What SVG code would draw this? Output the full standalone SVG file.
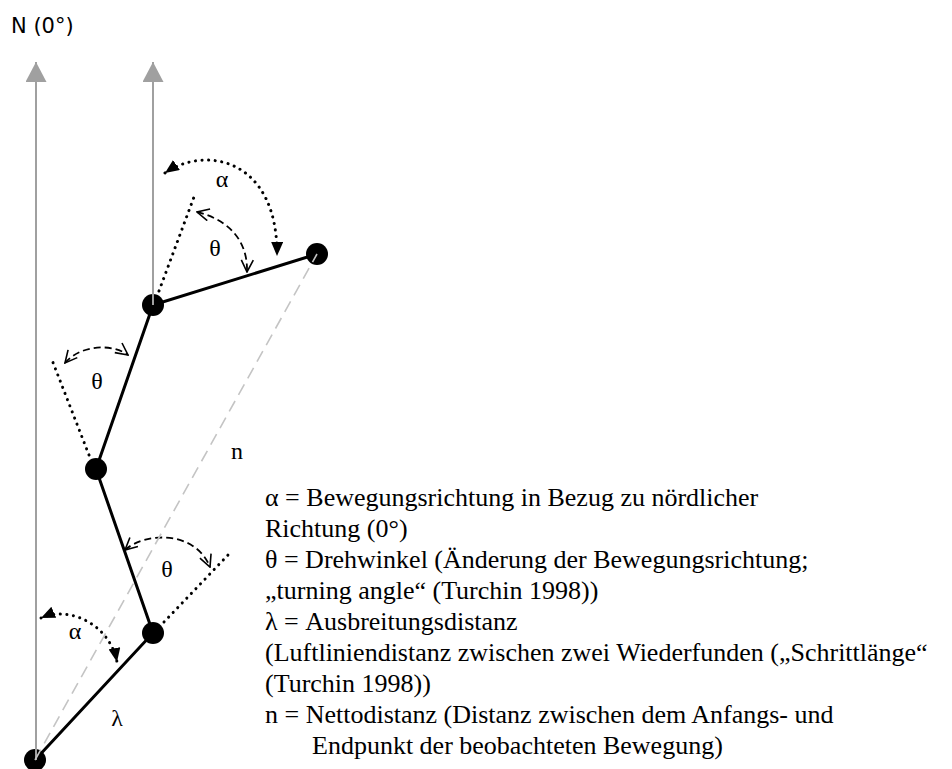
<svg xmlns="http://www.w3.org/2000/svg" width="952" height="769" viewBox="0 0 952 769">
<style>
.north{stroke:#a0a0a0;stroke-width:2;fill:none}
.seg{stroke:#000;stroke-width:3;fill:none}
.net{stroke:#c4c4c4;stroke-width:1.6;stroke-dasharray:12 7;fill:none}
.dot{stroke:#000;stroke-width:3;stroke-linecap:round;stroke-dasharray:0.1 6.5;fill:none}
.alpha{stroke:#000;stroke-width:3;stroke-linecap:round;stroke-dasharray:0.1 6.5;fill:none;marker-start:url(#fa);marker-end:url(#fa)}
.theta{stroke:#000;stroke-width:1.8;stroke-dasharray:7 4;fill:none;marker-start:url(#oa);marker-end:url(#oa)}
.pt{fill:#000}
.lbl{font-family:"Liberation Serif","Times New Roman",serif;font-size:24px;fill:#000;text-anchor:middle}
.leg{font-family:"Liberation Serif","Times New Roman",serif;font-size:26px;fill:#000}
.nt{font-family:"DejaVu Sans",sans-serif;font-size:21px;fill:#000}
</style>
<defs>
<marker id="ga" viewBox="0 0 20 21" refX="20" refY="10.5" markerWidth="20" markerHeight="21" markerUnits="userSpaceOnUse" orient="auto">
<path d="M0,0 L20,10.5 L0,21 z" fill="#a0a0a0"/>
</marker>
<marker id="fa" viewBox="0 0 14 12" refX="14" refY="6" markerWidth="14" markerHeight="12" markerUnits="userSpaceOnUse" orient="auto-start-reverse">
<path d="M0,0 L14,6 L0,12 z" fill="#000"/>
</marker>
<marker id="oa" viewBox="0 0 14 14" refX="13" refY="7" markerWidth="14" markerHeight="14" markerUnits="userSpaceOnUse" orient="auto-start-reverse">
<path d="M1,1 L13,7 L1,13" fill="none" stroke="#000" stroke-width="1.6"/>
</marker>
</defs>
<text class="nt" x="11" y="33">N (0°)</text>
<g id="connectors">
<path class="seg" d="M35,760 L153,633 L96,469 L153,305 L317,254"/>
<path class="dot" d="M159,291 L194,197"/>
<path class="dot" d="M89,455 L52,360"/>
<path class="dot" d="M164,622 L228,555"/>
<path class="alpha" d="M165,173 C205,145 278,158 277,256"/>
<path class="alpha" d="M41,618 C70,605 110,625 117,662"/>
<path class="theta" d="M197,212 C222,218 248,235 247,272"/>
<path class="theta" d="M65,363 C80,345 112,343 128,355"/>
<path class="theta" d="M125,550 C145,532 195,530 210,567"/>
</g>
<g id="nodes">
<g id="p0"><circle class="pt" cx="35" cy="760" r="11"/></g>
<g id="p1"><circle class="pt" cx="153" cy="633" r="11"/></g>
<g id="p2"><circle class="pt" cx="96" cy="469" r="11"/></g>
<g id="p3"><circle class="pt" cx="153" cy="305" r="11"/></g>
<g id="p4"><circle class="pt" cx="317" cy="254" r="11"/></g>
</g>
<g id="overlay">
<path class="north" d="M36,760 L36,62" marker-end="url(#ga)"/>
<path class="north" d="M153,305 L153,62" marker-end="url(#ga)"/>
<path class="net" d="M35,760 L317,254"/>
</g>
<g id="labels">
<text class="lbl" x="222" y="187">α</text>
<text class="lbl" x="215" y="256">θ</text>
<text class="lbl" x="97" y="389">θ</text>
<text class="lbl" x="237" y="459">n</text>
<text class="lbl" x="167" y="577">θ</text>
<text class="lbl" x="75" y="639">α</text>
<text class="lbl" x="117" y="726">λ</text>
</g>
<g id="legend">
<text class="leg" x="265" y="506">α = Bewegungsrichtung in Bezug zu nördlicher</text>
<text class="leg" x="265" y="537">Richtung (0°)</text>
<text class="leg" x="265" y="568">θ = Drehwinkel (Änderung der Bewegungsrichtung;</text>
<text class="leg" x="265" y="599">„turning angle“ (Turchin 1998))</text>
<text class="leg" x="265" y="630">λ = Ausbreitungsdistanz</text>
<text class="leg" x="265" y="661">(Luftliniendistanz zwischen zwei Wiederfunden („Schrittlänge“</text>
<text class="leg" x="265" y="692">(Turchin 1998))</text>
<text class="leg" x="265" y="723">n = Nettodistanz (Distanz zwischen dem Anfangs- und</text>
<text class="leg" x="312" y="754">Endpunkt der beobachteten Bewegung)</text>
</g>
</svg>
